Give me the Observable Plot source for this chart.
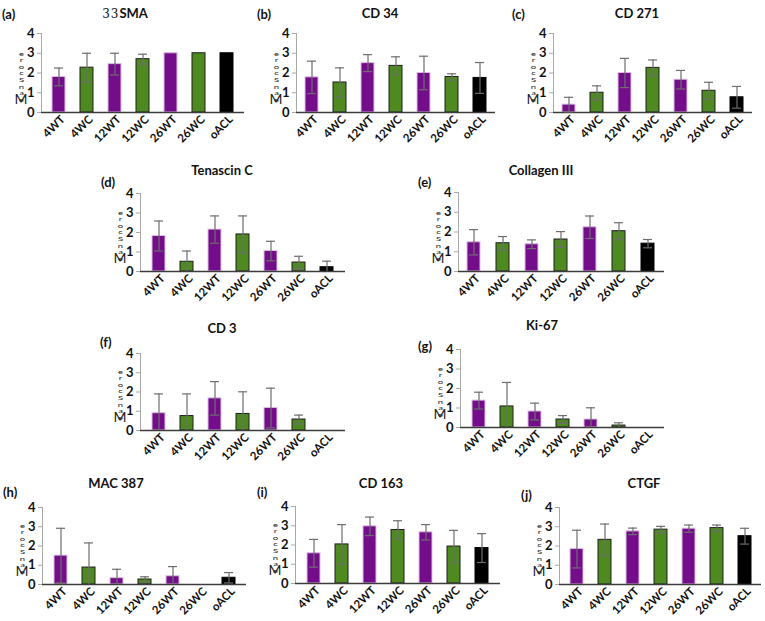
<!DOCTYPE html>
<html><head><meta charset="utf-8">
<script src="https://cdn.jsdelivr.net/npm/d3@7"></script>
<script src="https://cdn.jsdelivr.net/npm/@observablehq/plot@0.6"></script>
<style>
body{margin:0;background:#fff;font-family:Lato,"Open Sans",sans-serif;}
#root{position:relative;width:765px;height:621px;overflow:hidden;background:#fff;}
.panel{position:absolute;}
.panel svg{overflow:visible;}
.title{position:absolute;width:200px;text-align:center;font-weight:700;font-size:13px;color:#111;line-height:14px;white-space:nowrap;}
.tag{position:absolute;font-weight:700;font-size:13px;color:#111;line-height:14px;}
.ylm{position:absolute;color:#222;line-height:14px;font-size:14px;width:14px;text-align:center;}
.yls{position:absolute;color:#222;font-size:9.5px;line-height:10px;writing-mode:vertical-lr;text-orientation:upright;width:10px;transform:scaleY(0.6);transform-origin:50% 100%;}
</style></head><body><div id="root"></div>
<script>
// ---- data ----
const categories = ["4WT","4WC","12WT","12WC","26WT","26WC","oACL"];
const groups = ["WT","WC","WT","WC","WT","WC","ACL"];
const markers = ["33SMA","CD 34","CD 271","Tenascin C","Collagen III","CD 3","Ki-67","MAC 387","CD 163","CTGF"];
const panelTags = ["(a)","(b)","(c)","(d)","(e)","(f)","(g)","(h)","(i)","(j)"];
const yTicks = [0,1,2,3,4];
const yLabel = "Mean Score";

const meanA = [1.80,2.27,2.45,2.70,3.00,3.00,3.00];
const errA  = [0.45,0.73,0.55,0.25,0,0,0];
const meanB = [1.78,1.52,2.50,2.36,2.00,1.80,1.75];
const errB  = [0.82,0.74,0.43,0.46,0.85,0.16,0.78];
const meanC = [0.40,1.00,2.00,2.26,1.66,1.10,0.77];
const errC  = [0.37,0.35,0.74,0.40,0.47,0.43,0.55];
const meanD = [1.82,0.50,2.15,1.90,1.05,0.46,0.22];
const errD  = [0.77,0.55,0.70,0.95,0.50,0.32,0.31];
const meanE = [1.48,1.43,1.38,1.62,2.24,2.04,1.41];
const errE  = [0.64,0.34,0.22,0.40,0.57,0.43,0.21];
const meanF = [0.90,0.75,1.67,0.86,1.17,0.57,0];
const errF  = [1.00,1.15,0.87,1.15,1.03,0.23,0];
const meanG = [1.38,1.08,0.82,0.41,0.41,0.10,0];
const errG  = [0.43,1.23,0.43,0.20,0.60,0.14,0];
const meanH = [1.50,0.88,0.33,0.26,0.43,0,0.35];
const errH  = [1.42,1.28,0.46,0.14,0.50,0,0.27];
const meanI = [1.57,2.03,2.97,2.78,2.66,1.92,1.84];
const errI  = [0.72,1.03,0.48,0.48,0.40,0.84,0.75];
const meanJ = [1.84,2.32,2.76,2.85,2.90,2.93,2.51];
const errJ  = [0.98,0.82,0.17,0.17,0.19,0.16,0.41];

const means = [meanA,meanB,meanC,meanD,meanE,meanF,meanG,meanH,meanI,meanJ];
const errs  = [errA,errB,errC,errD,errE,errF,errG,errH,errI,errJ];

// ---- layout ----
const layout = [
  {x0:41, x1:244, yt:33, yb:112, tx:125, ty:6,  gx:2,   gy:7},
  {x0:296,x1:495, yt:33, yb:112, tx:380, ty:6,  gx:257, gy:7},
  {x0:553,x1:752, yt:33, yb:112, tx:637, ty:6,  gx:512, gy:7},
  {x0:140,x1:345, yt:193,yb:271, tx:222, ty:163,gx:101, gy:175},
  {x0:458,x1:664, yt:192,yb:271, tx:541, ty:163,gx:418, gy:175},
  {x0:140,x1:345, yt:353,yb:430, tx:222, ty:321,gx:100, gy:335},
  {x0:460,x1:664, yt:349,yb:427, tx:542, ty:318,gx:418, gy:339},
  {x0:42, x1:246, yt:507,yb:584, tx:116, ty:476,gx:3,   gy:485},
  {x0:295,x1:500, yt:506,yb:583, tx:381, ty:476,gx:257, gy:485},
  {x0:559,x1:761, yt:507,yb:584, tx:644, ty:476,gx:521, gy:488}
];

const purple = "#740d8a", green = "#4e8a20", black = "#000000";
const errColor = "#6e6e6e";
const ML = 30, MR = 4, MT = 6, MB = 44;
const root = document.getElementById("root");

markers.forEach((name, k) => {
  const L = layout[k];
  const data = categories.map((c, i) => ({cat: c, group: groups[i], mean: means[k][i], err: errs[k][i]}));
  const withErr = data.filter(d => d.err > 0);
  const w = L.x1 - L.x0, h = L.yb - L.yt;
  const barOpts = (g, fill, stroke) => Plot.barY(data.filter(d => d.group === g && d.mean > 0),
      {x: "cat", y: "mean", fill, stroke, strokeWidth: 1});
  const chart = Plot.plot({
    width: ML + w + MR, height: MT + h + MB,
    marginLeft: ML, marginRight: MR, marginTop: MT, marginBottom: MB,
    style: {fontFamily: "Lato, 'Open Sans', sans-serif", fontWeight: 700, color: "#111", background: "transparent"},
    x: {domain: categories, paddingInner: 0.55, paddingOuter: 0.32, label: null},
    y: {domain: [0, 4], label: null},
    marks: [
      Plot.frame({anchor: "left", stroke: "#a8a8a8"}),
      Plot.axisY({ticks: yTicks, tickSize: 4, tickPadding: 3, stroke: "#a8a8a8", fontSize: 13, label: null, tickFormat: d => d}),
      Plot.axisX({tickRotate: -45, tickSize: 0, tickPadding: 5, fontSize: 11.5, label: null, dx: 4}),
      barOpts("WT", purple, "#dcbde4"),
      barOpts("WC", green, "#1e1e1e"),
      barOpts("ACL", black, "#000"),
      Plot.ruleY([0], {stroke: "#3c3c3c", strokeWidth: 1.6}),
      Plot.ruleX(withErr, {x: "cat", y1: d => Math.max(0, d.mean - d.err), y2: d => d.mean + d.err, stroke: errColor, strokeWidth: 1.2}),
      Plot.tickY(withErr, {x: "cat", y: d => d.mean + d.err, stroke: errColor, strokeWidth: 1.2, insetLeft: 2, insetRight: 2}),
      Plot.tickY(withErr.filter(d => d.mean - d.err > 0), {x: "cat", y: d => d.mean - d.err, stroke: errColor, strokeWidth: 1.2, insetLeft: 2, insetRight: 2})
    ]
  });
  const div = document.createElement("div");
  div.className = "panel";
  div.style.left = (L.x0 - ML) + "px";
  div.style.top = (L.yt - MT) + "px";
  div.appendChild(chart);
  root.appendChild(div);

  // title
  const t = document.createElement("div");
  t.className = "title";
  t.style.left = (L.tx - 100) + "px";
  t.style.top = L.ty + "px";
  if (name === "33SMA") {
    t.innerHTML = '<span style="font-family:\'DejaVu Serif\',serif;font-weight:400;font-size:12px;letter-spacing:1px">33</span>SMA';
  } else t.textContent = name;
  root.appendChild(t);

  // panel tag
  const g = document.createElement("div");
  g.className = "tag";
  g.style.left = L.gx + "px";
  g.style.top = L.gy + "px";
  g.textContent = panelTags[k];
  root.appendChild(g);

  // garbled vertical y label ("Mean Score"): big "M" at bottom, remaining glyphs stacked upright above it
  const m = document.createElement("div");
  m.className = "ylm";
  m.style.left = (L.x0 - 27) + "px";
  m.style.top = (L.yb - 20) + "px";
  m.textContent = yLabel[0];
  root.appendChild(m);
  const rest = yLabel.slice(1).replace(" ", "").split("").reverse().join("");
  const s = document.createElement("div");
  s.className = "yls";
  s.style.left = (L.x0 - 25) + "px";
  s.style.top = (L.yb - 21 - rest.length * 9.5) + "px";
  s.textContent = rest;
  root.appendChild(s);
});
</script></body></html>
